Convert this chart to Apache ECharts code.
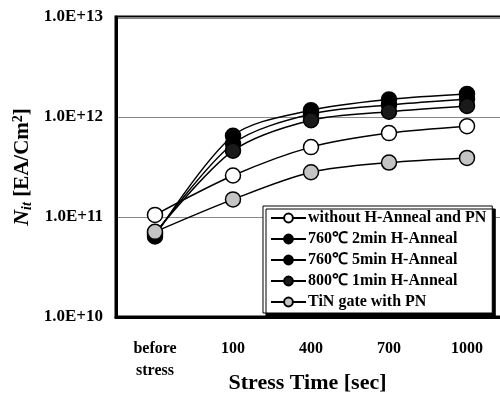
<!DOCTYPE html>
<html>
<head>
<meta charset="utf-8">
<script src="https://cdn.jsdelivr.net/npm/echarts@6/dist/echarts.min.js"></script>
<style>html,body{margin:0;padding:0;background:#fff}#c{width:500px;height:399px}</style>
</head>
<body>
<div id="c"></div>
<script>
const categories = ['before\nstress', '100', '400', '700', '1000'];
const seriesNames = ['without H-Anneal and PN', '760\u2103 2min H-Anneal', '760\u2103 5min H-Anneal', '800\u2103 1min H-Anneal', 'TiN gate with PN'];
const withoutHAnneal = [1.05e11, 2.6e11, 5.0e11, 6.9e11, 8.1e11];
const h760_2min = [6.4e10, 6.5e11, 1.17e12, 1.5e12, 1.7e12];
const h760_5min = [6.7e10, 5.4e11, 1.07e12, 1.32e12, 1.51e12];
const h800_1min = [6.9e10, 4.6e11, 9.3e11, 1.13e12, 1.29e12];
const tinGate = [7.1e10, 1.5e11, 2.8e11, 3.5e11, 3.9e11];
const yTickLabels = {10: '1.0E+10', 11: '1.0E+11', 12: '1.0E+12', 13: '1.0E+13'};

const FONT = "'Liberation Serif', 'Times New Roman', serif";
const fills = ['#ffffff', '#000000', '#000000', '#1a1a1a', '#c4c4c4'];
const dataSets = [withoutHAnneal, h760_2min, h760_5min, h800_1min, tinGate];

const chart = echarts.init(document.getElementById('c'), null, {renderer: 'canvas'});
chart.setOption({
  animation: false,
  backgroundColor: '#fff',
  grid: {left: 116, top: 17, width: 390, bottom: 82, outerBoundsMode: 'none', containLabel: false,
    show: true, borderColor: '#000', borderWidth: 3, backgroundColor: 'transparent'},
  xAxis: {
    type: 'category', data: categories, boundaryGap: true,
    axisLine: {show: true, lineStyle: {color: '#000', width: 3}},
    axisTick: {show: false},
    axisLabel: {color: '#000', fontFamily: FONT, fontWeight: 'bold', fontSize: 16, margin: 21, lineHeight: 22},
    name: 'Stress Time [sec]', nameLocation: 'middle', nameGap: 55, nameMoveOverlap: false,
    nameTextStyle: {color: '#000', fontFamily: FONT, fontWeight: 'bold', fontSize: 22, padding: [0, 7, 0, 0]}
  },
  yAxis: {
    type: 'log', logBase: 10, min: 1e10, max: 1e13,
    axisLine: {show: true, lineStyle: {color: '#000', width: 3}},
    axisTick: {show: false},
    splitLine: {show: true, lineStyle: {color: '#888', width: 1}},
    axisLabel: {color: '#000', fontFamily: FONT, fontWeight: 'bold', fontSize: 17, margin: 13,
      formatter: v => yTickLabels[Math.round(Math.log10(v))] || ''},
    name: '{n|N}{s|it}{t| [EA/Cm}{p|2}{t|]}', nameLocation: 'middle', nameGap: 82, nameRotate: 90, nameMoveOverlap: false,
    nameTextStyle: {color: '#000', fontFamily: FONT, fontWeight: 'bold', fontSize: 21,
      rich: {
        n: {fontFamily: FONT, fontWeight: 'bold', fontStyle: 'italic', fontSize: 22, color: '#000'},
        s: {fontFamily: FONT, fontWeight: 'bold', fontStyle: 'italic', fontSize: 14, color: '#000', verticalAlign: 'bottom', padding: [8, 0, 0, 0]},
        t: {fontFamily: FONT, fontWeight: 'bold', fontSize: 21, color: '#000'},
        p: {fontFamily: FONT, fontWeight: 'bold', fontSize: 14, color: '#000', verticalAlign: 'top', padding: [0, 0, 9, 0]}
      }}
  },
  legend: {
    orient: 'vertical', left: 263, top: 206,
    backgroundColor: '#fff', borderColor: '#000', borderWidth: 1,
    shadowColor: '#000', shadowOffsetX: 3, shadowOffsetY: 3, shadowBlur: 0,
    padding: [4, 6, 3, 7], itemGap: 5, itemWidth: 35, itemHeight: 11,
    textStyle: {color: '#000', fontFamily: FONT, fontWeight: 'bold', fontSize: 16, lineHeight: 16, padding: [0, 0, 0, -3]},
    data: seriesNames
  },
  series: dataSets.map((d, i) => ({
    name: seriesNames[i], type: 'line', data: d, smooth: 0.3,
    symbol: 'circle', symbolSize: 15, z: i === 4 ? 5 : 3,
    lineStyle: {color: '#000', width: 1.5},
    itemStyle: {color: fills[i], borderColor: '#000', borderWidth: 1.5}
  }))
});
</script>
</body>
</html>
